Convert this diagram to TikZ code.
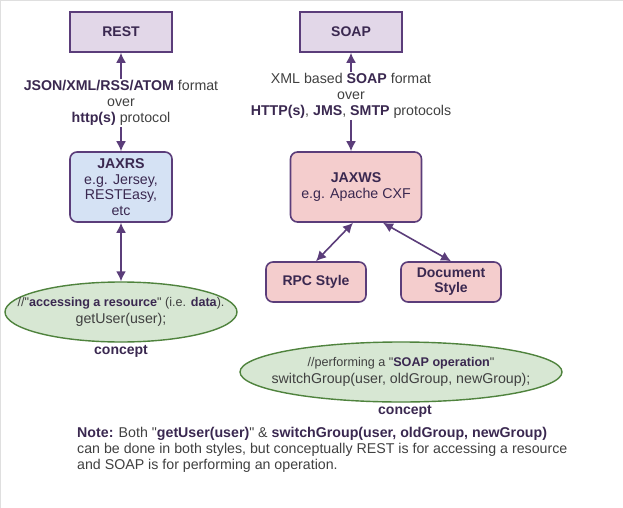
\documentclass[tikz,border=0pt]{standalone}
\usepackage{fontspec}
\setmainfont{Liberation Sans}
\usetikzlibrary{shapes.geometric,positioning,arrows.meta}
\definecolor{frame}{HTML}{5B3D7A}
\definecolor{ink}{HTML}{3A2850}
\definecolor{txt}{HTML}{404040}
\definecolor{lavender}{HTML}{E2D7E8}
\definecolor{skyfill}{HTML}{D5E2F4}
\definecolor{pinkfill}{HTML}{F4CDCD}
\definecolor{sagefill}{HTML}{D7E7D3}
\definecolor{sageline}{HTML}{4F833D}
\newcommand{\hl}[1]{\textbf{\color{ink}#1}}
\newcommand{\dq}{\textquotedbl}
\tikzset{
  box/.style={draw=frame,line width=1.6pt,fill=lavender,minimum width=102pt,minimum height=40pt,align=center,font=\fontsize{14}{16}\selectfont\bfseries,text=ink},
  rbox/.style={box,rounded corners=7pt},
  lbl/.style={align=center,text=txt,inner sep=1pt},
  usage/.style={ellipse,draw=sageline,line width=1.4pt,fill=sagefill,inner sep=0pt},
  arr/.style={draw=frame,line width=1.6pt,-{Latex[length=10pt,width=10pt]}},
  darr/.style={draw=frame,line width=1.6pt,{Latex[length=10pt,width=10pt]}-{Latex[length=10pt,width=10pt]}}
}
\begin{document}
\begin{tikzpicture}[x=1pt,y=-1pt,font=\fontsize{14.2}{16}\selectfont]
\useasboundingbox (0,0) rectangle (623,508);
\draw[gray!25,line width=1.5pt](0,508)--(0,0.75)--(623,0.75);
% REST side
\node[box](rest) at (121,32) {REST};
\node[lbl](restlbl) at (121,103) {\hl{JSON/XML/RSS/ATOM} format\\over\\\hl{http(s)} protocol};
\node[rbox,fill=skyfill,minimum height=70pt,font=\fontsize{14.2}{15.5}\selectfont](jaxrs) at (121,187)
  {\hl{JAXRS}\\e.g. Jersey,\\RESTEasy,\\etc};
\node[usage,minimum width=232pt,minimum height=60pt](restuse) at (121,312) {};
\node[lbl,font=\fontsize{14.2}{17}\selectfont](restcode) at (restuse.center)
  {{\fontsize{12.6}{14}\selectfont//\dq\hl{accessing a resource}\dq{} (i.e. \hl{data}).}\\getUser(user);};
\node[text=ink,font=\fontsize{14}{16}\selectfont\bfseries](restcpt) at (121,351) {concept};
\draw[arr](restlbl)--(rest);
\draw[arr](restlbl)--(jaxrs);
\draw[darr](jaxrs)--(restuse);
% SOAP side
\node[box](soap) at (351,32) {SOAP};
\node[lbl](soaplbl) at (351,96) {XML based \hl{SOAP} format\\over\\\hl{HTTP(s)}, \hl{JMS}, \hl{SMTP} protocols};
\node[rbox,fill=pinkfill,minimum width=131pt,minimum height=70pt,font=\fontsize{14.2}{16}\selectfont](jaxws) at (356,187)
  {\hl{JAXWS}\\e.g. Apache CXF};
\node[rbox,fill=pinkfill,minimum width=100pt](rpc) at (316,282) {RPC Style};
\node[rbox,fill=pinkfill,minimum width=100pt,font=\fontsize{14}{15}\selectfont\bfseries](doc) at (451,282) {Document\\Style};
\node[usage,minimum width=322pt,minimum height=60pt](soapuse) at (401,372) {};
\node[lbl,font=\fontsize{14.2}{17}\selectfont](soapcode) at (soapuse.center)
  {{\fontsize{12.6}{14}\selectfont//performing a \dq\hl{SOAP operation}\dq}\\switchGroup(user, oldGroup, newGroup);};
\node[text=ink,font=\fontsize{14}{16}\selectfont\bfseries](soapcpt) at (405,411) {concept};
\draw[arr](soaplbl)--(soap);
\draw[arr](soaplbl.south-|soap)--(soap|-jaxws.north);
\draw[darr]([xshift=-3pt]jaxws.south)--(rpc.north);
\draw[darr]([xshift=27pt]jaxws.south)--(doc.north);
% note
\node[anchor=north west,align=left,text=txt,inner sep=0pt](note) at (77,427)
  {\hl{Note:} Both \dq\hl{getUser(user)}\dq{} \& \hl{switchGroup(user, oldGroup, newGroup)}\\
   can be done in both styles, but conceptually REST is for accessing a resource\\
   and SOAP is for performing an operation.};
\end{tikzpicture}
\end{document}
